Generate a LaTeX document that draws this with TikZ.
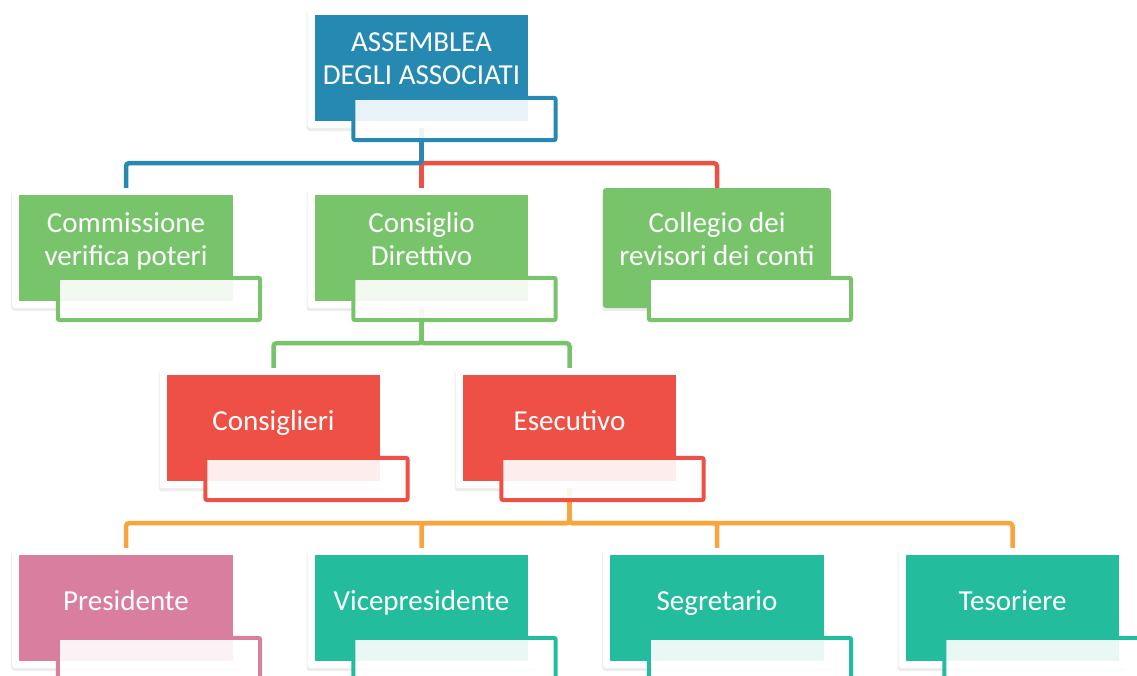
\documentclass[tikz,border=0pt]{standalone}
\usepackage{fontspec}
\setmainfont{Carlito}
\usepackage{tikz}
\usetikzlibrary{shadows,backgrounds,calc}
\usepackage{xcolor}

\definecolor{asmblue}{HTML}{2689B2}
\definecolor{orggreen}{HTML}{77C46B}
\definecolor{orgred}{HTML}{EF5046}
\definecolor{orgpink}{HTML}{DA7EA0}
\definecolor{orgteal}{HTML}{23BC9D}
\definecolor{orgorange}{HTML}{F9A53E}

\begin{document}
\begin{tikzpicture}[x=1pt,y=-1pt]
  \tikzset{frame/.style = {shape=rectangle,fill=white,rounded corners=3pt,minimum width=228pt,minimum height=120pt,inner sep=0pt,
      drop shadow={shadow xshift=-0.8pt,shadow yshift=-3pt,opacity=.15}}}
  \tikzset{tab/.style = {draw=#1,line width=4pt,fill=white,fill opacity=.9,rounded corners=2pt}}
  \tikzset{txt/.style = {text=white,align=center,font=\fontsize{29}{33}\selectfont,inner sep=0pt,
      execute at begin node=\strut,execute at end node=\strut}}
  \tikzset{link/.style = {draw=#1,line width=4.5pt,rounded corners=3pt}}

  \useasboundingbox (0,0) rectangle (1137,675);

  % boxes with white frame
  \foreach \name/\px/\py/\col/\lbl in {asm/421.5/68/asmblue/{ASSEMBLEA\\DEGLI ASSOCIATI},
      com/126/248/orggreen/{Commissione\\verifica poteri},
      csd/421.5/248/orggreen/{Consiglio\\Direttivo},
      cns/273.5/428/orgred/{Consiglieri},
      ese/569.5/428/orgred/{Esecutivo},
      pre/126/608/orgpink/{Presidente},
      vpr/421.5/608/orgteal/{Vicepresidente},
      seg/717/608/orgteal/{Segretario},
      tes/1012.5/608/orgteal/{Tesoriere}}{
    \node[frame] (\name) at (\px,\py) {};
    \fill[\col] ($(\name.north west)+(7.5,7.5)$) rectangle ($(\name.south east)+(-7.5,-7.5)$);
    \draw[tab=\col] ($(\name.north west)+(46,90)$) rectangle ($(\name.south east)+(20,12)$);
    \node[txt] at ($(\name.center)+(0,-4)$) {\lbl};
  }

  % box without frame
  \node[frame,fill=orggreen] (col) at (717,248) {};
  \draw[tab=orggreen,fill opacity=1] ($(col.north west)+(46,90)$) rectangle ($(col.south east)+(20,12)$);
  \node[txt] at ($(col.center)+(0,-4)$) {Collegio dei\\revisori dei conti};

  \begin{scope}[on background layer]
    \foreach \from/\to in {asm/col, asm/csd}
    \path[link=orgred] (\from.south) -- ++(0,35) -| (\to.north);
    \foreach \from/\to in {asm/com}
    \path[link=asmblue] (\from.south) -- ++(0,35) -| (\to.north);
    \foreach \from/\to in {csd/cns, csd/ese}
    \path[link=orggreen] (\from.south) -- ++(0,35) -| (\to.north);
    \foreach \from/\to in {ese/pre, ese/vpr, ese/seg, ese/tes}
    \path[link=orgorange] (\from.south) -- ++(0,35) -| (\to.north);
  \end{scope}
\end{tikzpicture}
\end{document}
